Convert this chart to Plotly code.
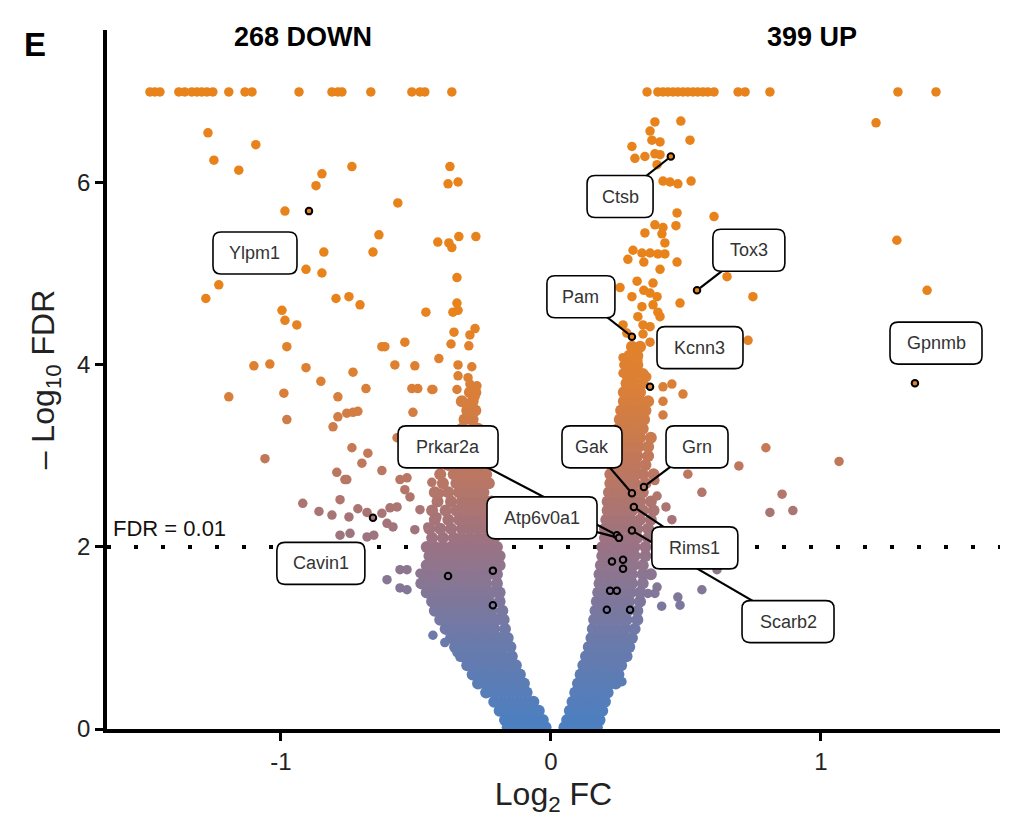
import plotly.graph_objects as go

# ---------------- data ----------------
# capped points (-log10 FDR shown at 7)
capped_down_x = [-1.485, -1.467, -1.448, -1.378, -1.356, -1.330, -1.311, -1.293, -1.274, -1.252,
                 -1.193, -1.133, -1.107, -0.933, -0.811, -0.789, -0.774, -0.667, -0.515, -0.485,
                 -0.467, -0.367]
capped_up_x = [0.356, 0.396, 0.415, 0.433, 0.452, 0.470, 0.489, 0.507, 0.526, 0.544, 0.563,
               0.581, 0.604, 0.693, 0.719, 0.811, 1.285, 1.426]
capped_y = 7.0

# dense core of the left (down) arm: rows of (-log10 FDR, [log2FC ...])
down_core_rows = [
    (0.02, [-0.16, -0.13, -0.10, -0.07, -0.04, -0.02]),
    (0.10, [-0.17, -0.14, -0.11, -0.08, -0.05, -0.03]),
    (0.20, [-0.19, -0.16, -0.13, -0.10, -0.07, -0.045]),
    (0.30, [-0.21, -0.18, -0.15, -0.12, -0.09, -0.065]),
    (0.40, [-0.24, -0.21, -0.18, -0.15, -0.12, -0.09]),
    (0.50, [-0.27, -0.24, -0.21, -0.18, -0.15, -0.12, -0.10]),
    (0.60, [-0.29, -0.26, -0.23, -0.20, -0.17, -0.14, -0.115]),
    (0.70, [-0.31, -0.28, -0.25, -0.22, -0.19, -0.16, -0.13]),
    (0.80, [-0.33, -0.30, -0.27, -0.24, -0.21, -0.18, -0.145]),
    (0.90, [-0.355, -0.32, -0.29, -0.26, -0.23, -0.20, -0.17, -0.15]),
    (1.00, [-0.37, -0.34, -0.31, -0.28, -0.25, -0.22, -0.19, -0.16]),
    (1.10, [-0.39, -0.36, -0.33, -0.30, -0.27, -0.24, -0.21, -0.17]),
    (1.20, [-0.41, -0.38, -0.35, -0.32, -0.29, -0.26, -0.23, -0.20, -0.175]),
    (1.30, [-0.43, -0.40, -0.37, -0.34, -0.31, -0.28, -0.25, -0.22, -0.18]),
    (1.40, [-0.44, -0.41, -0.38, -0.35, -0.32, -0.29, -0.26, -0.23, -0.19]),
    (1.50, [-0.46, -0.43, -0.40, -0.37, -0.34, -0.31, -0.28, -0.25, -0.22, -0.19]),
    (1.60, [-0.48, -0.45, -0.42, -0.39, -0.36, -0.33, -0.30, -0.27, -0.24, -0.20]),
    (1.70, [-0.47, -0.44, -0.41, -0.38, -0.35, -0.32, -0.29, -0.26, -0.23, -0.20]),
    (1.80, [-0.46, -0.43, -0.40, -0.37, -0.34, -0.31, -0.28, -0.25, -0.22, -0.19]),
    (1.90, [-0.45, -0.42, -0.39, -0.36, -0.33, -0.30, -0.27, -0.24, -0.21, -0.19]),
    (2.00, [-0.46, -0.43, -0.40, -0.37, -0.34, -0.31, -0.28, -0.25, -0.22, -0.20]),
    (2.10, [-0.44, -0.40, -0.36, -0.33, -0.30, -0.27, -0.24, -0.21]),
    (2.20, [-0.45, -0.41, -0.37, -0.33, -0.30, -0.27, -0.24, -0.21]),
    (2.30, [-0.43, -0.38, -0.34, -0.31, -0.28, -0.25, -0.22]),
    (2.40, [-0.44, -0.39, -0.35, -0.32, -0.29, -0.26, -0.23]),
    (2.50, [-0.42, -0.37, -0.33, -0.30, -0.27, -0.24, -0.22]),
    (2.60, [-0.43, -0.38, -0.34, -0.31, -0.28, -0.25]),
    (2.70, [-0.40, -0.35, -0.32, -0.29, -0.26, -0.23]),
    (2.80, [-0.41, -0.36, -0.33, -0.30, -0.27, -0.24]),
    (2.90, [-0.38, -0.34, -0.31, -0.28, -0.25]),
    (3.00, [-0.37, -0.33, -0.30, -0.27]),
    (3.10, [-0.35, -0.31, -0.28, -0.26]),
    (3.20, [-0.34, -0.30, -0.27]),
    (3.30, [-0.33, -0.29, -0.27]),
    (3.40, [-0.32, -0.29]),
    (3.50, [-0.31, -0.28]),
    (3.60, [-0.33, -0.29]),
    (3.70, [-0.30, -0.28]),
]

# dense core of the right (up) arm
up_core_rows = [
    (0.02, [0.05, 0.08, 0.11, 0.14, 0.17]),
    (0.10, [0.06, 0.09, 0.12, 0.15, 0.18]),
    (0.20, [0.07, 0.10, 0.13, 0.16, 0.19]),
    (0.30, [0.08, 0.11, 0.14, 0.17, 0.20]),
    (0.40, [0.09, 0.12, 0.15, 0.18, 0.21]),
    (0.50, [0.10, 0.13, 0.16, 0.19, 0.22, 0.24]),
    (0.60, [0.11, 0.14, 0.17, 0.20, 0.23, 0.25]),
    (0.70, [0.12, 0.15, 0.18, 0.21, 0.24, 0.26]),
    (0.80, [0.13, 0.16, 0.19, 0.22, 0.25, 0.28]),
    (0.90, [0.14, 0.17, 0.20, 0.23, 0.26, 0.29]),
    (1.00, [0.15, 0.18, 0.21, 0.24, 0.27, 0.30]),
    (1.10, [0.155, 0.185, 0.215, 0.245, 0.275, 0.31]),
    (1.20, [0.16, 0.19, 0.22, 0.25, 0.28, 0.32]),
    (1.30, [0.165, 0.195, 0.225, 0.255, 0.285, 0.32]),
    (1.40, [0.17, 0.20, 0.23, 0.26, 0.29, 0.33]),
    (1.50, [0.175, 0.205, 0.235, 0.265, 0.295, 0.33]),
    (1.60, [0.18, 0.21, 0.24, 0.27, 0.30, 0.34]),
    (1.70, [0.18, 0.21, 0.24, 0.27, 0.30, 0.34, 0.37]),
    (1.80, [0.185, 0.215, 0.245, 0.275, 0.305, 0.34]),
    (1.90, [0.19, 0.22, 0.25, 0.28, 0.31, 0.35]),
    (2.00, [0.19, 0.22, 0.25, 0.28, 0.31, 0.35]),
    (2.10, [0.20, 0.23, 0.26, 0.29, 0.32, 0.36]),
    (2.20, [0.20, 0.23, 0.26, 0.29, 0.32, 0.36]),
    (2.30, [0.205, 0.235, 0.265, 0.295, 0.33, 0.37]),
    (2.40, [0.21, 0.24, 0.27, 0.30, 0.34, 0.38]),
    (2.50, [0.21, 0.24, 0.27, 0.30, 0.33, 0.37]),
    (2.60, [0.215, 0.245, 0.275, 0.305, 0.34]),
    (2.70, [0.22, 0.25, 0.28, 0.31, 0.35]),
    (2.80, [0.22, 0.25, 0.28, 0.31, 0.34, 0.38]),
    (2.90, [0.225, 0.255, 0.285, 0.315, 0.35]),
    (3.00, [0.23, 0.26, 0.29, 0.32, 0.36]),
    (3.10, [0.235, 0.265, 0.295, 0.325, 0.36]),
    (3.20, [0.24, 0.27, 0.30, 0.33, 0.37]),
    (3.30, [0.25, 0.28, 0.31, 0.34]),
    (3.40, [0.255, 0.285, 0.315, 0.345]),
    (3.50, [0.26, 0.29, 0.32, 0.35]),
    (3.60, [0.27, 0.30, 0.33, 0.36]),
    (3.70, [0.27, 0.30, 0.33]),
    (3.80, [0.28, 0.31, 0.34]),
    (3.90, [0.28, 0.31, 0.34]),
    (4.00, [0.29, 0.32]),
    (4.10, [0.29, 0.32]),
    (4.20, [0.30, 0.33]),
]

# scattered points, left side
down_x = [-1.270, -1.093, -1.248, -1.156, -0.848, -0.737, -0.870, -0.374, -0.381, -0.344,
          -0.985, -0.567, -0.637, -0.659, -0.419, -0.378, -0.367, -0.341, -0.278, -0.841,
          -0.907, -0.848, -1.230, -1.278, -0.348, -0.796, -0.748, -0.707, -0.996, -0.985,
          -0.941, -0.463, -0.348, -0.363, -0.344, -0.359, -0.370, -0.304, -0.300, -0.281,
          -0.978, -0.626, -0.615, -0.541, -0.415, -1.100, -1.041, -0.907, -0.733, -0.852,
          -0.578, -0.504, -0.685, -0.515, -0.493, -0.441, -0.344, -0.293, -0.344, -0.307,
          -0.300, -0.274, -0.989, -1.193, -0.789, -0.978, -0.807, -0.789, -0.756, -0.733,
          -0.715, -0.511, -1.059, -0.737, -0.678, -0.700, -0.626, -0.570, -0.793, -0.763,
          -0.756, -0.919, -0.859, -0.811, -0.781, -0.748, -0.715, -0.681, -0.656, -0.607,
          -0.559, -0.533, -0.485, -0.559, -0.533, -0.437, -0.393, -0.348, -0.337, -0.307,
          -0.626, -0.596, -0.570, -0.607, -0.585, -0.559, -0.533, -0.522, -0.541, -0.781,
          -0.744, -0.681, -0.441, -0.411, -0.485, -0.456, -0.504, -0.422, -0.437, -0.348,
          -0.311, -0.300, -0.281]
down_y = [6.55, 6.42, 6.25, 6.14, 6.10, 6.18, 5.97, 6.18, 5.99, 6.01,
          5.69, 5.78, 5.43, 5.24, 5.35, 5.34, 5.29, 5.41, 5.41, 5.24,
          5.05, 5.01, 4.88, 4.73, 4.96, 4.73, 4.75, 4.66, 4.60, 4.49,
          4.44, 4.58, 4.68, 4.58, 4.60, 4.36, 4.23, 4.21, 4.33, 4.40,
          4.20, 4.20, 4.20, 4.25, 4.07, 3.99, 4.01, 3.97, 3.92, 3.82,
          4.00, 3.99, 3.74, 3.74, 3.74, 3.73, 4.00, 3.98, 3.88, 3.86,
          3.79, 3.77, 3.69, 3.65, 3.65, 3.40, 3.32, 3.43, 3.47, 3.48,
          3.49, 3.48, 2.97, 3.09, 3.03, 2.92, 2.84, 3.20, 2.82, 2.74,
          2.74, 2.48, 2.39, 2.35, 2.52, 2.33, 2.42, 2.38, 2.13, 1.64,
          1.75, 1.75, 1.71, 1.55, 1.53, 1.03, 0.95, 0.84, 0.79, 0.70,
          2.37, 2.43, 2.44, 2.26, 2.22, 2.74, 2.76, 2.55, 2.63, 2.13,
          2.15, 2.11, 2.71, 2.59, 2.41, 2.22, 2.19, 2.33, 3.73, 3.73,
          3.54, 3.48, 3.65]

# scattered points, right side
up_x = [0.385, 0.481, 0.367, 0.374, 0.404, 0.515, 0.300, 0.311, 0.348, 0.385,
        0.404, 0.393, 0.415, 0.441, 0.470, 0.519, 0.467, 0.604, 0.385, 0.415,
        0.463, 0.348, 0.411, 0.422, 0.304, 0.337, 0.367, 0.396, 0.422, 0.285,
        0.344, 0.467, 0.404, 0.652, 0.748, 0.319, 0.378, 0.256, 0.300, 0.344,
        0.367, 0.393, 0.478, 0.337, 0.378, 0.396, 0.322, 0.404, 0.341, 0.367,
        0.267, 0.281, 0.341, 0.367, 0.730, 0.267, 0.293, 0.322, 0.270, 0.318,
        0.329, 0.267, 0.355, 0.304, 1.204, 1.281, 1.393, 0.415, 0.448, 0.489,
        0.415, 0.415, 0.796, 1.067, 0.696, 0.507, 0.559, 0.856, 0.811, 0.896,
        0.393, 0.426, 0.448, 0.385, 0.470, 0.478, 0.410, 0.393, 0.385, 0.359,
        0.615, 0.559, 0.263]
up_y = [6.67, 6.68, 6.57, 6.47, 6.45, 6.47, 6.40, 6.27, 6.29, 6.32,
        6.31, 6.20, 6.02, 6.01, 5.99, 6.02, 5.67, 5.63, 5.54, 5.51,
        5.53, 5.45, 5.44, 5.34, 5.26, 5.23, 5.23, 5.22, 5.22, 5.16,
        5.13, 5.13, 5.05, 4.97, 4.75, 4.92, 4.90, 4.85, 4.75, 4.82,
        4.79, 4.75, 4.68, 4.64, 4.66, 4.58, 4.53, 4.53, 4.44, 4.42,
        4.44, 4.35, 4.34, 4.25, 4.27, 4.08, 4.09, 4.05, 4.00, 3.98,
        3.91, 3.91, 3.87, 3.85, 6.66, 5.37, 4.82, 3.76, 3.79, 3.68,
        3.60, 3.45, 3.09, 2.94, 2.89, 2.80, 2.60, 2.58, 2.38, 2.40,
        2.56, 2.44, 2.30, 2.73, 1.45, 1.36, 1.35, 1.56, 1.49, 1.49,
        1.75, 1.53, 0.52]

# highlighted genes
genes = ["Ylpm1", "Ctsb", "Tox3", "Pam", "Kcnn3", "Gpnmb", "Prkar2a", "Scarb2",
         "Atp6v0a1", "Gak", "Grn", "Rims1", "Cavin1"]
gene_x = [-0.896, 0.444, 0.541, 0.300, 0.367, 1.348, 0.244, 0.300, 0.252, 0.300, 0.344, 0.307, -0.659]
gene_y = [5.69, 6.29, 4.82, 4.31, 3.76, 3.80, 2.13, 2.18, 2.10, 2.59, 2.66, 2.44, 2.32]
label_x = [-1.096, 0.256, 0.733, 0.111, 0.552, 1.426, -0.381, 0.878, -0.033, 0.152, 0.541, 0.533, -0.852]
label_y = [5.23, 5.85, 5.26, 4.75, 4.19, 4.24, 3.10, 1.18, 2.32, 3.10, 3.10, 1.99, 1.82]
label_line = [False, True, True, True, False, False, True, True, True, True, True, True, False]
label_w = [84, 66, 72, 68, 86, 92, 100, 92, 110, 60, 62, 86, 88]
# other highlighted (unlabelled) genes
extra_x = [-0.381, -0.215, -0.215, 0.226, 0.267, 0.267, 0.219, 0.244, 0.207, 0.293]
extra_y = [1.68, 1.74, 1.36, 1.84, 1.86, 1.76, 1.52, 1.52, 1.31, 1.31]

n_down, n_up = 268, 399
fdr_line = 2.0

# ---------------- assemble ----------------
core_x, core_y = [], []
for rows in (down_core_rows, up_core_rows):
    for yv, xs in rows:
        for xv in xs:
            core_x.append(xv)
            core_y.append(yv)

sc_x = down_x + up_x + capped_down_x + capped_up_x
sc_y = down_y + up_y + [capped_y] * (len(capped_down_x) + len(capped_up_x))

cscale = [[0.0, '#4a80c2'], [0.22, '#6c7aaa'], [0.44, '#9a7384'], [0.62, '#bd775f'],
          [0.8, '#d97f3a'], [1.0, '#e8831c']]
cmin, cmax = 0, 4.6

W, H = 1029, 831
ml, mr, mt, mb = 107, 29, 30, 102
XR = [-1.644, 1.663]
YR = [0, 7.68]
px_x = (XR[1] - XR[0]) / (W - ml - mr)   # data units per pixel
px_y = (YR[1] - YR[0]) / (H - mt - mb)

fig = go.Figure()
fig.add_trace(go.Scatter(
    x=core_x, y=core_y, mode='markers',
    marker=dict(size=12, color=core_y, colorscale=cscale, cmin=cmin, cmax=cmax, line=dict(width=0)),
    showlegend=False, hoverinfo='skip'))
fig.add_trace(go.Scatter(
    x=sc_x, y=sc_y, mode='markers',
    marker=dict(size=9.5, color=sc_y, colorscale=cscale, cmin=cmin, cmax=cmax, line=dict(width=0)),
    showlegend=False, hoverinfo='skip'))
fig.add_trace(go.Scatter(
    x=gene_x + extra_x, y=gene_y + extra_y, mode='markers',
    marker=dict(size=6.5, color=gene_y + extra_y, colorscale=cscale, cmin=cmin, cmax=cmax,
                line=dict(width=2, color='black')),
    showlegend=False, hoverinfo='skip'))

FONT = "Liberation Sans, Arial, Helvetica, sans-serif"

shapes = []
# FDR threshold line
shapes.append(dict(type='line', xref='paper', x0=0, x1=1, yref='y', y0=fdr_line, y1=fdr_line,
                   line=dict(color='black', width=4, dash='4px,23px'), layer='below'))


def rounded_box(cx, cy, wpx, hpx, rpx=8):
    hw, hh = wpx / 2 * px_x, hpx / 2 * px_y
    rx, ry = rpx * px_x, rpx * px_y
    x0, x1, y0, y1 = cx - hw, cx + hw, cy - hh, cy + hh
    return (f"M {x0+rx},{y0} L {x1-rx},{y0} Q {x1},{y0} {x1},{y0+ry} "
            f"L {x1},{y1-ry} Q {x1},{y1} {x1-rx},{y1} L {x0+rx},{y1} "
            f"Q {x0},{y1} {x0},{y1-ry} L {x0},{y0+ry} Q {x0},{y0} {x0+rx},{y0} Z")


annotations = []
# connector segments then boxes (later boxes cover earlier segments)
for g, gx, gy, lx, ly, ln, w in zip(genes, gene_x, gene_y, label_x, label_y, label_line, label_w):
    if ln:
        dxp = (lx - gx) / px_x
        dyp = (ly - gy) / px_y
        d = (dxp ** 2 + dyp ** 2) ** 0.5
        ex = gx + dxp / d * 4 * px_x
        ey = gy + dyp / d * 4 * px_y
        shapes.append(dict(type='line', xref='x', yref='y', x0=lx, y0=ly, x1=ex, y1=ey,
                           line=dict(color='black', width=2.2), layer='above'))
    shapes.append(dict(type='path', xref='x', yref='y', path=rounded_box(lx, ly, w, 42),
                       fillcolor='white', line=dict(color='black', width=1.6), layer='above'))
    annotations.append(dict(x=lx, y=ly, xref='x', yref='y', text=g, showarrow=False,
                            xanchor='center', yanchor='middle',
                            font=dict(size=18, color='#333333', family=FONT)))

annotations.append(dict(x=-1.63, y=fdr_line + 0.2, xref='x', yref='y', text='FDR = 0.01',
                        showarrow=False, xanchor='left', yanchor='middle',
                        font=dict(size=22, color='#111', family=FONT)))
annotations.append(dict(x=-0.92, y=7.6, xref='x', yref='y', text=f'<b>{n_down} DOWN</b>',
                        showarrow=False, xanchor='center', yanchor='middle',
                        font=dict(size=27, color='black', family=FONT)))
annotations.append(dict(x=0.967, y=7.6, xref='x', yref='y', text=f'<b>{n_up} UP</b>',
                        showarrow=False, xanchor='center', yanchor='middle',
                        font=dict(size=27, color='black', family=FONT)))
annotations.append(dict(x=(35 - ml) / (W - ml - mr), y=1 - (45 - mt) / (H - mt - mb),
                        xref='paper', yref='paper', text='<b>E</b>',
                        xanchor='center', yanchor='middle',
                        showarrow=False, font=dict(size=33, color='black', family=FONT)))

fig.update_layout(
    width=W, height=H,
    margin=dict(l=ml, r=mr, t=mt, b=mb),
    plot_bgcolor='white', paper_bgcolor='white',
    annotations=annotations, shapes=shapes,
    font=dict(family=FONT, color='black'),
    xaxis=dict(range=XR, showgrid=False, zeroline=False, automargin=False,
               showline=True, linewidth=3.5, linecolor='black',
               ticks='outside', ticklen=8, tickwidth=2.5, tickcolor='black',
               tickvals=[-1, 0, 1], ticktext=['-1', '0', '1'],
               tickfont=dict(size=24, color='#222', family=FONT),
               title=dict(text='Log<sub>2</sub> FC', font=dict(size=32, color='#222', family=FONT),
                          standoff=10)),
    yaxis=dict(range=YR, showgrid=False, zeroline=False, automargin=False,
               showline=True, linewidth=3.5, linecolor='black',
               ticks='outside', ticklen=8, tickwidth=2.5, tickcolor='black',
               tickvals=[0, 2, 4, 6],
               tickfont=dict(size=24, color='#222', family=FONT),
               title=dict(text='\u2013 Log<sub>10</sub> FDR',
                          font=dict(size=32, color='#222', family=FONT), standoff=14)),
)

fig.write_html("out.html", config={'displayModeBar': False},
               post_script="document.body.style.margin='0';")
